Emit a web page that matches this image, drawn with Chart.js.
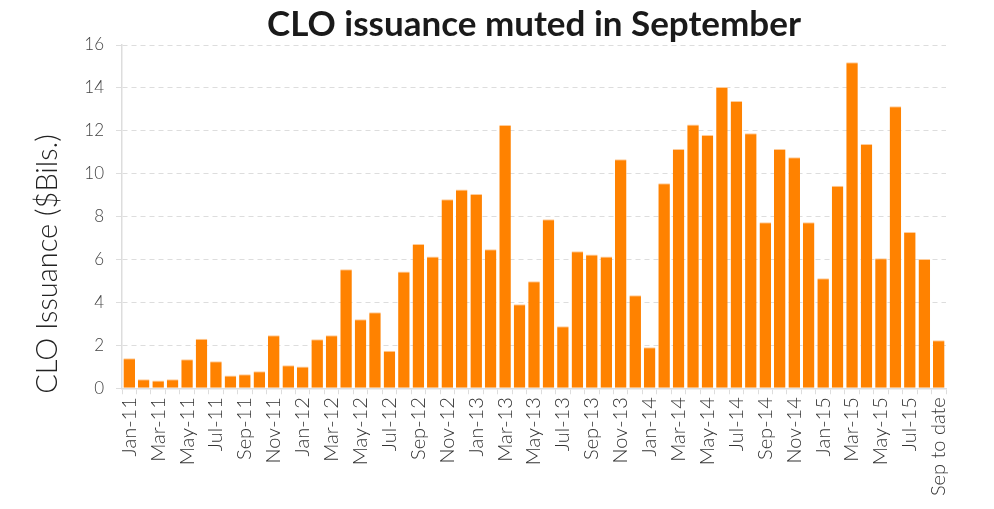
<!DOCTYPE html>
<html>
<head>
<meta charset="utf-8">
<script src="https://cdn.jsdelivr.net/npm/chart.js@4/dist/chart.umd.min.js"></script>
<style>
  html, body { margin: 0; padding: 0; background: #fff; }
  #wrap { width: 994px; height: 509px; }
</style>
</head>
<body>
<div id="wrap"><canvas id="c" width="994" height="509"></canvas></div>
<script>
const months = [
  "Jan-11","Feb-11","Mar-11","Apr-11","May-11","Jun-11","Jul-11","Aug-11","Sep-11","Oct-11","Nov-11","Dec-11",
  "Jan-12","Feb-12","Mar-12","Apr-12","May-12","Jun-12","Jul-12","Aug-12","Sep-12","Oct-12","Nov-12","Dec-12",
  "Jan-13","Feb-13","Mar-13","Apr-13","May-13","Jun-13","Jul-13","Aug-13","Sep-13","Oct-13","Nov-13","Dec-13",
  "Jan-14","Feb-14","Mar-14","Apr-14","May-14","Jun-14","Jul-14","Aug-14","Sep-14","Oct-14","Nov-14","Dec-14",
  "Jan-15","Feb-15","Mar-15","Apr-15","May-15","Jun-15","Jul-15","Aug-15","Sep to date"
];
const issuance = [
  1.40, 0.42, 0.36, 0.42, 1.35, 2.31, 1.26, 0.59, 0.65, 0.79, 2.47, 1.07,
  1.01, 2.28, 2.47, 5.55, 3.22, 3.54, 1.75, 5.44, 6.72, 6.14, 8.81, 9.26,
  9.05, 6.48, 12.27, 3.92, 4.99, 7.88, 2.89, 6.39, 6.23, 6.14, 10.68, 4.34,
  1.91, 9.56, 11.15, 12.30, 11.80, 14.04, 13.39, 11.89, 7.74, 11.15, 10.77, 7.74,
  5.13, 9.44, 15.20, 11.38, 6.06, 13.15, 7.28, 6.02, 2.24
];
const yTicks = [0, 2, 4, 6, 8, 10, 12, 14, 16];
const titleText = "CLO issuance muted in September";
const yAxisTitle = "CLO Issuance ($Bils.)";

const textPlugin = {
  id: "titles",
  afterDraw(chart) {
    const ctx = chart.ctx;
    const a = chart.chartArea;
    ctx.save();
    ctx.font = "bold 35px Lato";
    ctx.fillStyle = "#1a1a1a";
    ctx.textAlign = "center";
    ctx.textBaseline = "middle";
    ctx.fillText(titleText, (a.left + a.right) / 2, 25);
    ctx.restore();

    ctx.save();
    ctx.font = "300 29px Lato";
    ctx.fillStyle = "#222222";
    ctx.textAlign = "center";
    ctx.textBaseline = "middle";
    ctx.translate(48, 264);
    ctx.rotate(-Math.PI / 2);
    ctx.fillText(yAxisTitle, 0, 0);
    ctx.restore();
  }
};

new Chart(document.getElementById("c"), {
  type: "bar",
  data: {
    labels: months,
    datasets: [{
      data: issuance,
      backgroundColor: "#FF8200",
      borderColor: "#FFCC99",
      borderWidth: { top: 1, left: 0, right: 0, bottom: 0 },
      borderSkipped: "bottom",
      barPercentage: 0.8,
      categoryPercentage: 1.0
    }]
  },
  options: {
    responsive: false,
    animation: false,
    devicePixelRatio: 1,
    layout: { padding: { left: 0, right: 48, top: 45, bottom: 10 } },
    plugins: {
      legend: { display: false },
      tooltip: { enabled: false },
      title: { display: false }
    },
    scales: {
      x: {
        grid: { display: true, drawOnChartArea: false, drawTicks: true, tickLength: 6, color: "#dddddd", offset: true },
        border: { color: "#dddddd", width: 1.5 },
        ticks: {
          autoSkip: false,
          minRotation: 90,
          maxRotation: 90,
          color: "#333333",
          font: { family: "Lato", size: 20, weight: "300" },
          padding: 3,
          callback: function (v, i) { return i % 2 === 0 ? months[i] : ""; }
        }
      },
      y: {
        min: 0,
        max: 16,
        afterBuildTicks: function (axis) { axis.ticks = yTicks.map(v => ({ value: v })); },
        afterFit: function (axis) { axis.width = 122; },
        grid: { color: "#dddddd", tickLength: 6, lineWidth: 1, tickBorderDash: [5, 4] },
        border: { color: "#dddddd", width: 1.5, dash: [5, 4] },
        ticks: { color: "#444444", font: { family: "Lato", size: 17, weight: "300" }, padding: 12 }
      }
    }
  },
  plugins: [textPlugin]
});
</script>
</body>
</html>
